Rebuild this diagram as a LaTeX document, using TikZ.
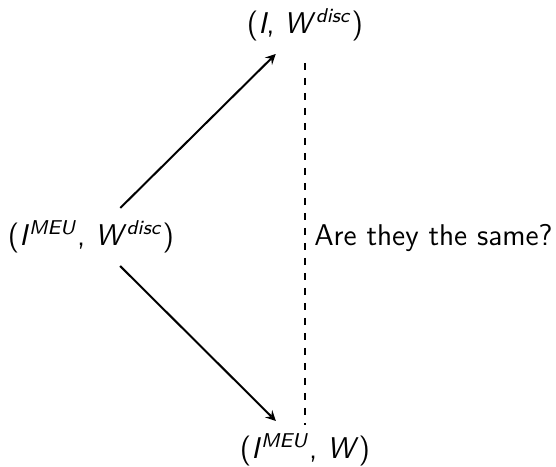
\documentclass[tikz,border=0pt]{standalone}
\usepackage{tikz}

\begin{document}
\begin{tikzpicture}[x=0.4pt, y=0.4pt, font=\sffamily\large, >=stealth, thick]
        \useasboundingbox (0, 0) rectangle (556, -467);
        % the three pairs
        \node (top) at (305, -25) {(\textit{I}, \textit{W}\textsuperscript{\textit{disc}})};
        \node (left) at (91, -237) {(\textit{I}\textsuperscript{\textit{MEU}}, \textit{W}\textsuperscript{\textit{disc}})};
        \node (bot) at (305, -450) {(\textit{I}\textsuperscript{\textit{MEU}}, \textit{W})};

        \draw[->, shorten <=2pt, shorten >=2pt] (left) -- (top);
        \draw[->, shorten <=2pt, shorten >=2pt] (left) -- (bot);
        \draw[dashed, shorten <=5pt] (top) -- (bot) node[midway, right]{Are they the same?};
\end{tikzpicture}
\end{document}
